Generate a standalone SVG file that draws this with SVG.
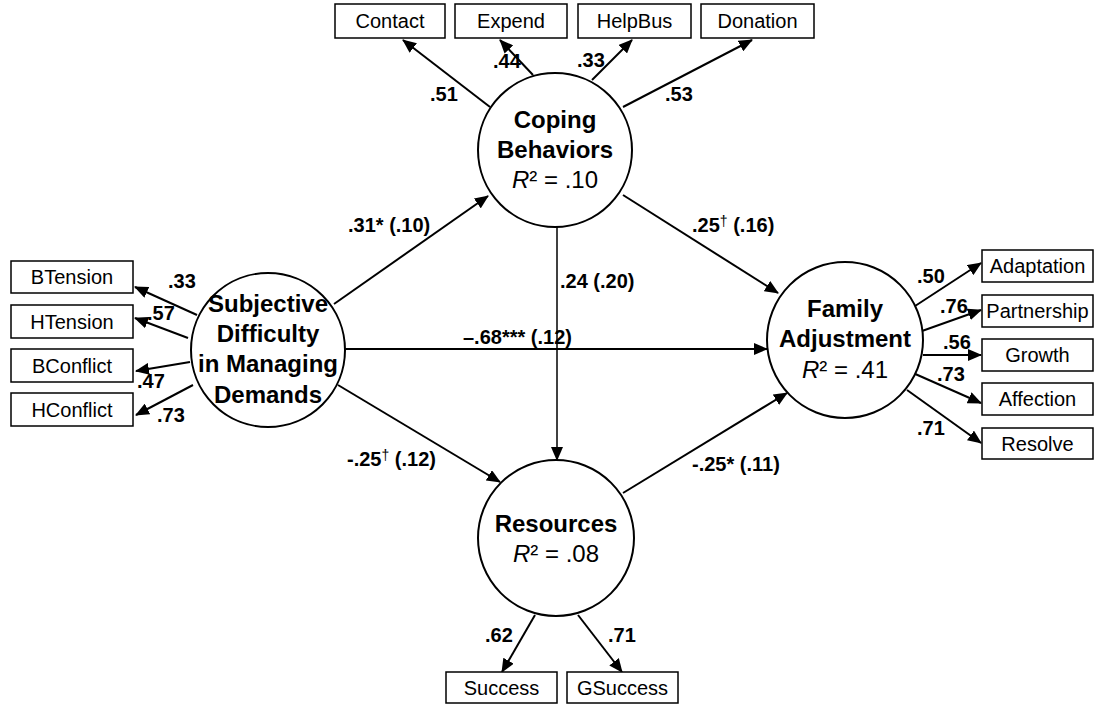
<svg xmlns="http://www.w3.org/2000/svg" width="1095" height="706" viewBox="0 0 1095 706">
<style>
.bg{fill:#fff}
.box{fill:#fff;stroke:#000;stroke-width:1.5}
.lat{fill:#fff;stroke:#000;stroke-width:2}
.bt{font-family:"Liberation Sans",Arial,sans-serif;font-size:20px;text-anchor:middle;fill:#000}
.lt{font-family:"Liberation Sans",Arial,sans-serif;font-size:24px;font-weight:bold;text-anchor:middle;fill:#000}
.r2{font-weight:normal}
.ld{font-family:"Liberation Sans",Arial,sans-serif;font-size:20px;font-weight:bold;fill:#000}
.pl{font-family:"Liberation Sans",Arial,sans-serif;font-size:20px;font-weight:bold;fill:#000}
.dg{font-size:14px;font-weight:normal}
.ar{stroke:#000;stroke-width:2;fill:none;marker-end:url(#ah)}
</style>
<defs>
<marker id="ah" markerWidth="14" markerHeight="12" refX="13" refY="6" orient="auto" markerUnits="userSpaceOnUse">
<path d="M0,0 L14,6 L0,12 Z" fill="#000"/>
</marker>
</defs>
<rect class="bg" x="0" y="0" width="1095" height="706"/>

<g id="connectors">
<line class="ar" x1="490" y1="107" x2="403" y2="40"/>
<line class="ar" x1="533" y1="75" x2="500" y2="40"/>
<line class="ar" x1="592" y1="80" x2="632" y2="40"/>
<line class="ar" x1="623" y1="107" x2="752" y2="40"/>
<line class="ar" x1="197" y1="315" x2="135" y2="287"/>
<line class="ar" x1="188" y1="338" x2="135" y2="318"/>
<line class="ar" x1="190" y1="362" x2="136" y2="371"/>
<line class="ar" x1="193" y1="385" x2="136" y2="415"/>
<line class="ar" x1="912" y1="308" x2="981" y2="263"/>
<line class="ar" x1="922" y1="331" x2="981" y2="310"/>
<line class="ar" x1="923" y1="355" x2="981" y2="355"/>
<line class="ar" x1="913" y1="373" x2="981" y2="403"/>
<line class="ar" x1="907" y1="390" x2="981" y2="443"/>
<line class="ar" x1="535" y1="615" x2="502" y2="672"/>
<line class="ar" x1="578" y1="615" x2="622" y2="672"/>
<line class="ar" x1="334" y1="304" x2="488" y2="196"/>
<line class="ar" x1="623" y1="195" x2="778" y2="293"/>
<line class="ar" x1="345" y1="349" x2="767" y2="349"/>
<line class="ar" x1="338" y1="385" x2="500" y2="482"/>
<line class="ar" x1="623" y1="493" x2="787" y2="393"/>
<line class="ar" style="stroke-width:1.5" x1="557" y1="227" x2="557" y2="460"/>
</g>

<g id="contact"><rect class="box" x="335" y="4" width="110" height="34"/><text class="bt" x="390" y="28">Contact</text></g>
<g id="expend"><rect class="box" x="455" y="4" width="112" height="34"/><text class="bt" x="511" y="28">Expend</text></g>
<g id="helpbus"><rect class="box" x="578" y="4" width="113" height="34"/><text class="bt" x="634.5" y="28">HelpBus</text></g>
<g id="donation"><rect class="box" x="701" y="4" width="113" height="34"/><text class="bt" x="757.5" y="28">Donation</text></g>

<g id="btension"><rect class="box" x="11" y="261" width="122" height="32"/><text class="bt" x="72" y="284">BTension</text></g>
<g id="htension"><rect class="box" x="11" y="305" width="122" height="33"/><text class="bt" x="72" y="329">HTension</text></g>
<g id="bconflict"><rect class="box" x="11" y="349" width="122" height="33"/><text class="bt" x="72" y="373">BConflict</text></g>
<g id="hconflict"><rect class="box" x="11" y="393" width="122" height="33"/><text class="bt" x="72" y="417">HConflict</text></g>

<g id="adaptation"><rect class="box" x="982" y="250" width="111" height="32"/><text class="bt" x="1037.5" y="273">Adaptation</text></g>
<g id="partnership"><rect class="box" x="982" y="295" width="111" height="32"/><text class="bt" x="1037.5" y="318">Partnership</text></g>
<g id="growth"><rect class="box" x="982" y="339" width="111" height="32"/><text class="bt" x="1037.5" y="362">Growth</text></g>
<g id="affection"><rect class="box" x="982" y="383" width="111" height="32"/><text class="bt" x="1037.5" y="406">Affection</text></g>
<g id="resolve"><rect class="box" x="982" y="428" width="111" height="31"/><text class="bt" x="1037.5" y="451">Resolve</text></g>

<g id="success"><rect class="box" x="446" y="672" width="111" height="31"/><text class="bt" x="501.5" y="695">Success</text></g>
<g id="gsuccess"><rect class="box" x="567" y="672" width="111" height="31"/><text class="bt" x="622.5" y="695">GSuccess</text></g>

<g id="coping"><circle class="lat" cx="555" cy="150" r="77"/>
<text class="lt" x="555" y="128">Coping</text>
<text class="lt" x="555" y="158">Behaviors</text>
<text class="lt r2" x="555" y="188"><tspan font-style="italic">R</tspan>² =  .10</text></g>

<g id="subjective"><circle class="lat" cx="268" cy="350" r="77"/>
<text class="lt" x="268" y="312">Subjective</text>
<text class="lt" x="268" y="342">Difficulty</text>
<text class="lt" x="268" y="372">in Managing</text>
<text class="lt" x="268" y="403">Demands</text></g>

<g id="family"><circle class="lat" cx="845" cy="340" r="78"/>
<text class="lt" x="845" y="317">Family</text>
<text class="lt" x="845" y="347">Adjustment</text>
<text class="lt r2" x="845" y="378"><tspan font-style="italic">R</tspan>² = .41</text></g>

<g id="resources"><circle class="lat" cx="556" cy="538" r="78"/>
<text class="lt" x="556" y="532">Resources</text>
<text class="lt r2" x="556" y="562"><tspan font-style="italic">R</tspan>² =  .08</text></g>

<g id="labels">
<text class="ld" x="430" y="101">.51</text>
<text class="ld" x="493" y="68">.44</text>
<text class="ld" x="577" y="67">.33</text>
<text class="ld" x="665" y="101">.53</text>
<text class="ld" x="168" y="288">.33</text>
<text class="ld" x="147" y="320">.57</text>
<text class="ld" x="137" y="388">.47</text>
<text class="ld" x="157" y="422">.73</text>
<text class="ld" x="917" y="283">.50</text>
<text class="ld" x="940" y="313">.76</text>
<text class="ld" x="943" y="349">.56</text>
<text class="ld" x="937" y="381">.73</text>
<text class="ld" x="917" y="435">.71</text>
<text class="ld" x="485" y="642">.62</text>
<text class="ld" x="608" y="642">.71</text>
<text class="pl" x="348" y="232">.31* (.10)</text>
<text class="pl" x="692" y="232">.25<tspan class="dg" dy="-6">†</tspan><tspan dy="6"> (.16)</tspan></text>
<text class="pl" x="560" y="288">.24 (.20)</text>
<text class="pl" x="463" y="344">–.68*** (.12)</text>
<text class="pl" x="347" y="466">-.25<tspan class="dg" dy="-6">†</tspan><tspan dy="6"> (.12)</tspan></text>
<text class="pl" x="692" y="471">-.25* (.11)</text>
</g>
</svg>
